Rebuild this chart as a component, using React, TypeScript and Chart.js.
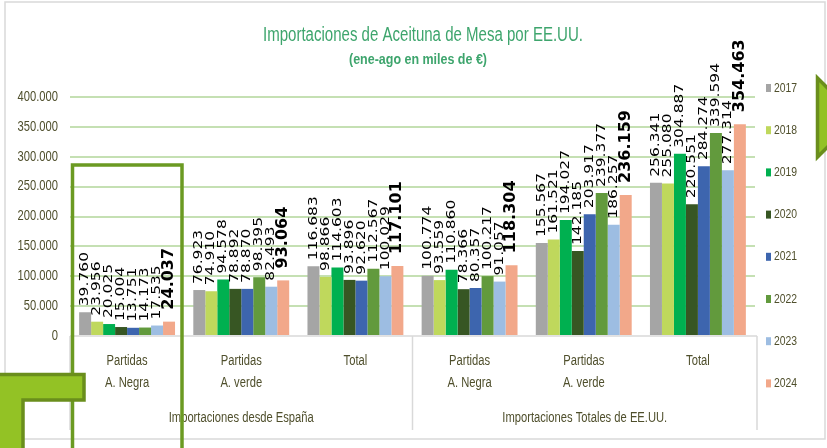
import React, { useEffect, useRef } from 'react';
import { Chart, registerables } from 'chart.js';

Chart.register(...registerables);

// ---------- data ----------
const categoryLines: string[][] = [
  ['Partidas', 'A. Negra'],
  ['Partidas', 'A. verde'],
  ['Total'],
  ['Partidas', 'A. Negra'],
  ['Partidas', 'A. verde'],
  ['Total'],
];
const groupLabels = ['Importaciones desde España', 'Importaciones Totales de EE.UU.'];
const groupSizes = [3, 3];
const years = ['2017', '2018', '2019', '2020', '2021', '2022', '2023', '2024'];

const v2017 = [39760, 76923, 116683, 100774, 155567, 256341];
const v2018 = [23956, 74910, 98866, 93559, 161521, 255080];
const v2019 = [20025, 94578, 114603, 110860, 194027, 304887];
const v2020 = [15004, 78892, 93896, 78366, 142185, 220551];
const v2021 = [13751, 78870, 92620, 80357, 203917, 284274];
const v2022 = [14173, 98395, 112567, 100217, 239377, 339594];
const v2023 = [17535, 82493, 100029, 91057, 186257, 277314];
const v2024 = [24037, 93064, 117101, 118304, 236159, 354463];
const seriesValues = [v2017, v2018, v2019, v2020, v2021, v2022, v2023, v2024];

const yMin = 0;
const yMax = 400000;
const yStep = 50000;

const titleText = 'Importaciones de Aceituna de Mesa por EE.UU.';
const subtitleText = '(ene-ago en miles de €)';

// ---------- styles ----------
const colors = ['#a5a5a5', '#bfd85c', '#00b050', '#375623', '#3d65ae', '#629a3d', '#9dbde2', '#f2a88a'];
const SANS = '"Liberation Sans", Arial, sans-serif';
const LABEL_FONT = '"DejaVu Sans", Verdana, sans-serif';
const NARROW_SCALE = 0.8;
const textOlive = '#4f4f2c';
const titleGreen = '#3ea56d';

function fmt(v: number): string {
  return Math.round(v).toString().replace(/\B(?=(\d{3})+(?!\d))/g, '.');
}

function fitText(ctx: CanvasRenderingContext2D, text: string, cx: number, cy: number, width: number) {
  const w = ctx.measureText(text).width;
  const s = width / w;
  ctx.save();
  ctx.translate(cx, cy);
  ctx.scale(s, 1);
  ctx.textAlign = 'center';
  ctx.textBaseline = 'middle';
  ctx.fillText(text, 0, 0);
  ctx.restore();
}

function narrowText(ctx: CanvasRenderingContext2D, text: string, x: number, y: number, align: CanvasTextAlign) {
  ctx.save();
  ctx.translate(x, y);
  ctx.scale(NARROW_SCALE, 1);
  ctx.textAlign = align;
  ctx.textBaseline = 'middle';
  ctx.fillText(text, 0, 0);
  ctx.restore();
}

const decorPlugin = {
  id: 'decor',
  beforeDraw(chart: any) {
    const { ctx, width, height } = chart;
    ctx.save();
    ctx.fillStyle = '#ffffff';
    ctx.fillRect(0, 0, width, height);
    ctx.strokeStyle = '#d9d9d9';
    ctx.lineWidth = 1.5;
    ctx.strokeRect(5, 2, 820, 437);
    ctx.restore();
  },
  afterDraw(chart: any) {
    const { ctx, chartArea, scales } = chart;
    const xs = scales.x;
    const ys = scales.y;
    ctx.save();

    // y tick labels (from the library's scale)
    ctx.fillStyle = textOlive;
    ctx.font = `14px ${SANS}`;
    ys.ticks.forEach((t: any) => {
      narrowText(ctx, fmt(t.value), chartArea.left - 12, ys.getPixelForValue(t.value), 'right');
    });

    // title
    ctx.fillStyle = titleGreen;
    ctx.font = `20px ${SANS}`;
    fitText(ctx, titleText, 423, 35, 320);
    ctx.font = `bold 14px ${SANS}`;
    fitText(ctx, subtitleText, 418, 60, 138);

    // legend
    ctx.font = `13px ${SANS}`;
    years.forEach((y, i) => {
      const cy = 88 + i * 42.2;
      ctx.fillStyle = colors[i];
      ctx.fillRect(766, cy - 4, 5, 8);
      ctx.fillStyle = textOlive;
      narrowText(ctx, y, 774, cy, 'left');
    });

    // category axis box
    const left = chartArea.left;
    const right = chartArea.right + 2;
    const bottom = chartArea.bottom;
    const boxBottom = 430;
    ctx.strokeStyle = '#d9d9d9';
    ctx.lineWidth = 1.5;
    ctx.beginPath();
    ctx.moveTo(left, bottom);
    ctx.lineTo(right, bottom);
    let idx = 0;
    const bounds: number[] = [left];
    groupSizes.forEach((n) => {
      idx += n;
      const b = idx < categoryLines.length
        ? (xs.getPixelForValue(idx - 1) + xs.getPixelForValue(idx)) / 2
        : right;
      bounds.push(b);
    });
    bounds.forEach((b) => {
      ctx.moveTo(b, bottom);
      ctx.lineTo(b, boxBottom);
    });
    ctx.stroke();

    ctx.fillStyle = textOlive;
    ctx.font = `14px ${SANS}`;
    categoryLines.forEach((lines, i) => {
      const x = xs.getPixelForValue(i);
      lines.forEach((t, j) => narrowText(ctx, t, x, 361 + j * 22, 'center'));
    });
    groupLabels.forEach((g, i) => {
      narrowText(ctx, g, (bounds[i] + bounds[i + 1]) / 2, 418, 'center');
    });

    // highlight rectangle
    ctx.strokeStyle = '#6b9a22';
    ctx.lineWidth = 3.5;
    ctx.beginPath();
    ctx.moveTo(72.5, 460);
    ctx.lineTo(72.5, 165);
    ctx.lineTo(182, 165);
    ctx.lineTo(182, 460);
    ctx.stroke();

    // bent arrow fragment bottom-left
    ctx.fillStyle = '#93c225';
    ctx.strokeStyle = '#6a8e1c';
    ctx.lineWidth = 3.5;
    ctx.beginPath();
    ctx.moveTo(-10, 374.5);
    ctx.lineTo(84, 374.5);
    ctx.lineTo(84, 400);
    ctx.lineTo(23, 400);
    ctx.lineTo(23, 460);
    ctx.lineTo(-10, 460);
    ctx.closePath();
    ctx.fill();
    ctx.stroke();

    // arrow head fragment right
    ctx.beginPath();
    ctx.moveTo(817.5, 78);
    ctx.lineTo(857, 117.5);
    ctx.lineTo(817.5, 157);
    ctx.closePath();
    ctx.fill();
    ctx.stroke();

    ctx.restore();
  },
  afterDatasetsDraw(chart: any) {
    const { ctx } = chart;
    ctx.save();
    ctx.fillStyle = '#000000';
    ctx.textAlign = 'left';
    ctx.textBaseline = 'middle';
    chart.data.datasets.forEach((ds: any, di: number) => {
      const meta = chart.getDatasetMeta(di);
      const isLast = di === chart.data.datasets.length - 1;
      ctx.font = isLast ? `bold 16px ${LABEL_FONT}` : `15.5px ${LABEL_FONT}`;
      const gap = isLast ? 12 : 6;
      const sx = isLast ? 0.95 : 0.78;
      meta.data.forEach((bar: any, i: number) => {
        ctx.save();
        ctx.translate(bar.x, bar.y - gap);
        ctx.scale(sx, 1);
        ctx.rotate(-Math.PI / 2);
        ctx.fillText(fmt(ds.data[i]), 0, 0);
        ctx.restore();
      });
    });
    ctx.restore();
  },
};

export default function App() {
  const ref = useRef<HTMLCanvasElement | null>(null);
  useEffect(() => {
    if (!ref.current) return;
    const chart = new Chart(ref.current, {
      type: 'bar',
      data: {
        labels: categoryLines.map((l) => l.join(' ')),
        datasets: years.map((y, i) => ({
          label: y,
          data: seriesValues[i],
          backgroundColor: colors[i],
          borderWidth: 0,
          barPercentage: 1,
          categoryPercentage: 0.84,
        })),
      },
      options: {
        animation: false,
        responsive: false,
        devicePixelRatio: 1,
        layout: { padding: { left: 0, right: 72, top: 97, bottom: 112 } },
        plugins: {
          legend: { display: false },
          title: { display: false },
          tooltip: { enabled: false },
        },
        scales: {
          x: { display: false },
          y: {
            min: yMin,
            max: yMax,
            ticks: {
              stepSize: yStep,
              display: false,
            },
            border: { display: false },
            grid: {
              drawTicks: false,
              lineWidth: 2,
              color: (c: any) => (c.tick && c.tick.value === 0 ? 'rgba(0,0,0,0)' : '#c5e0b3'),
            },
            afterFit: (scale: any) => {
              scale.width = 70;
            },
          },
        },
      },
      plugins: [decorPlugin],
    });
    return () => chart.destroy();
  }, []);
  return (
    <div style={{ position: 'fixed', left: 0, top: 0, width: 827, height: 448, background: '#fff' }}>
      <canvas ref={ref} width={827} height={448} style={{ width: 827, height: 448, display: 'block' }} />
    </div>
  );
}
